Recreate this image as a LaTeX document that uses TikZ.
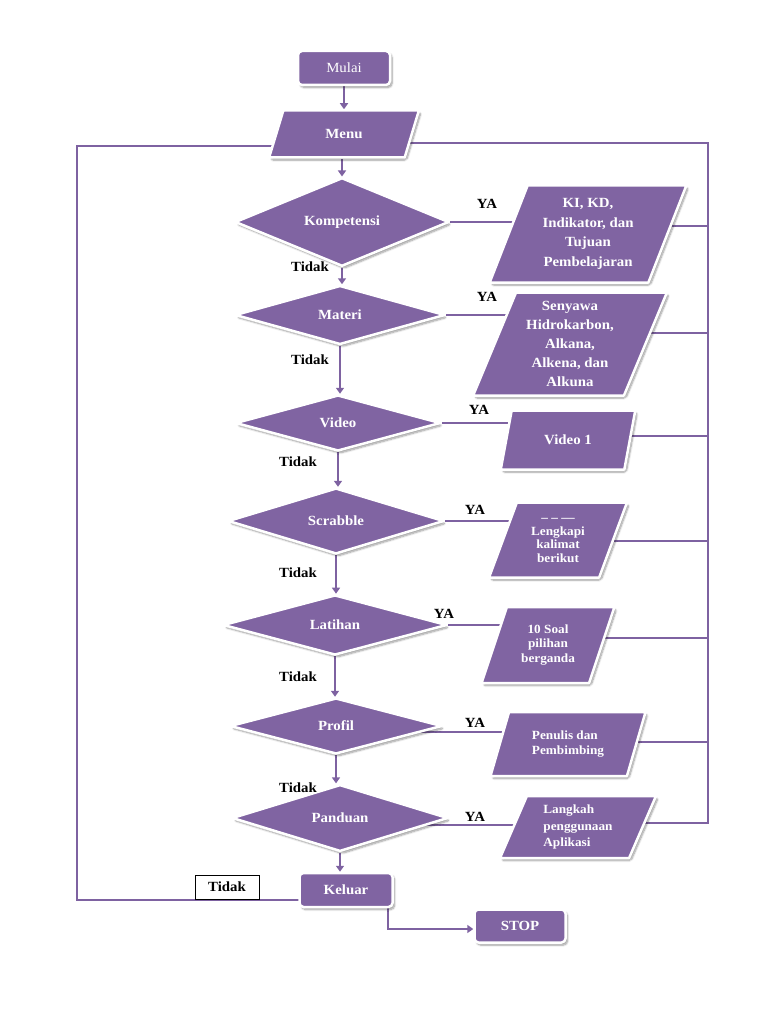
\documentclass[tikz,border=0pt]{standalone}
\usepackage{fontspec}
\setmainfont{Liberation Serif}[FakeStretch=1.06]
\usetikzlibrary{shapes.geometric,arrows.meta,shadows.blur,backgrounds,calc}
\definecolor{purp}{HTML}{8064A2}
\definecolor{lpurp}{HTML}{7E62A1}
\begin{document}
\begin{tikzpicture}[x=1pt,y=-1pt,
  box/.style={draw=white, line width=2.5pt, fill=purp, text=white, line join=round,
     blur shadow={shadow xshift=2pt, shadow yshift=-2.5pt, shadow blur steps=8, shadow blur extra rounding=2pt, shadow opacity=40}},
  rbox/.style={box, rectangle, rounded corners=4pt, minimum width=#1, minimum height=34pt, inner sep=1pt, font=\fontsize{14}{16}\selectfont\bfseries},
  rbox/.default=92pt,
  dia/.style={box, diamond, inner sep=0pt, font=\fontsize{14}{16}\selectfont\bfseries},
  para/.style={box, trapezium, trapezium left angle=68, trapezium right angle=112, trapezium stretches=true, inner sep=1pt, align=center},
  bigtxt/.style={font=\fontsize{14}{19.4}\selectfont\bfseries},
  smalltxt/.style={font=\fontsize{12.5}{13.5}\selectfont\bfseries},
  midtxt/.style={font=\fontsize{12.5}{15.5}\selectfont\bfseries},
  conn/.style={draw=lpurp, line width=2.6pt},
  arr/.style={conn, -{Triangle[width=8pt,length=6pt]}},
  lab/.style={font=\fontsize{14}{16}\selectfont\bfseries, text=black, inner sep=1pt},
]
\useasboundingbox (0,0) rectangle (768,1024);

% start / menu
\node[rbox=92pt, font=\fontsize{14}{16}\selectfont] (mulai) at (344,68) {Mulai};
\node[para, bigtxt, minimum width=150pt, minimum height=47pt] (menu) at (344,134) {Menu};

% decisions
\node[dia, minimum width=214pt, minimum height=60pt] (komp) at (342,222) {Kompetensi};
\node[dia, minimum width=210pt, minimum height=59pt] (mat)  at (340,315) {Materi};
\node[dia, minimum width=205pt, minimum height=56pt] (vid)  at (338,423) {Video};
\node[dia, minimum width=216pt, minimum height=58pt] (scr)  at (336,521) {Scrabble};
\node[dia, minimum width=224pt, minimum height=58pt] (lat)  at (335,625) {Latihan};
\node[dia, minimum width=212pt, minimum height=56pt] (prof) at (336,726) {Profil};
\node[dia, minimum width=216pt, minimum height=56pt] (pand) at (340,818) {Panduan};

% end
\node[rbox=93pt] (kel) at (346,890) {Keluar};
\node[rbox=91pt, minimum height=33pt] (stop) at (520,926) {STOP};
\node[lab, draw=black, line width=0.8pt, fill=white, minimum width=64pt, minimum height=24pt] (tbox) at (227,887) {Tidak};

% outputs
\node[para, bigtxt, minimum width=197pt, minimum height=97pt] (pki) at (588,234)
  {KI, KD,\\Indikator, dan\\Tujuan\\Pembelajaran};
\node[para, font=\fontsize{14}{19.2}\selectfont\bfseries, minimum width=194pt, minimum height=103pt] (psen) at (570,344)
  {Senyawa\\Hidrokarbon,\\Alkana,\\Alkena, dan\\Alkuna};
\node[para, bigtxt, minimum width=135pt, minimum height=59pt] (pvid) at (568,440) {Video 1};
\node[para, smalltxt, minimum width=138pt, minimum height=75pt] (plen) at (558,540)
  {\_\;\_\;\_\_\\[4pt]Lengkapi\\kalimat\\berikut};
\node[para, font=\fontsize{12.5}{14.5}\selectfont\bfseries, minimum width=133pt, minimum height=76pt] (psoal) at (548,645)
  {10 Soal\\pilihan\\berganda};
\node[para, midtxt, align=left, minimum width=156pt, minimum height=64pt] (ppen) at (568,744)
  {Penulis dan\\Pembimbing};
\node[para, font=\fontsize{12.5}{16.5}\selectfont\bfseries, align=left, minimum width=156pt, minimum height=62pt] (plang) at (578,827)
  {Langkah\\penggunaan\\Aplikasi};

% labels
\node[lab] (t1) at (310,267) {Tidak};
\node[lab] (t2) at (310,360) {Tidak};
\node[lab] (t3) at (298,462) {Tidak};
\node[lab] (t4) at (298,573) {Tidak};
\node[lab] (t5) at (298,677) {Tidak};
\node[lab] (t6) at (298,788) {Tidak};
\node[lab] (y1) at (487,204) {YA};
\node[lab] (y2) at (487,297) {YA};
\node[lab] (y3) at (479,410) {YA};
\node[lab] (y4) at (475,510) {YA};
\node[lab] (y5) at (444,614) {YA};
\node[lab] (y6) at (475,723) {YA};
\node[lab] (y7) at (475,817) {YA};

\coordinate (rb) at (708,823);
\coordinate (lt) at (77,146);
\coordinate (ks) at (388,929);

\begin{pgfonlayer}{background}
\draw[arr] (mulai.south) -- (mulai.south |- menu.north);
\draw[arr] (menu.south -| komp.north) -- (komp.north);
\draw[arr] (komp.south) -- (komp.south |- mat.north);
\draw[arr] (mat.south) -- (mat.south |- vid.north);
\draw[arr] (vid.south) -- (vid.south |- scr.north);
\draw[arr] (scr.south) -- (scr.south |- lat.north);
\draw[arr] (lat.south) -- (lat.south |- prof.north);
\draw[arr] (prof.south) -- (prof.south |- pand.north);
\draw[arr] (pand.south) -- (pand.south |- kel.north);

% YA branches
\draw[conn] (komp.east) -- (komp.east -| pki.center);
\draw[conn] (mat.east) -- (mat.east -| psen.center);
\draw[conn] (vid.east) -- (vid.east -| pvid.center);
\draw[conn] (scr.east) -- (scr.east -| plen.center);
\draw[conn] (lat.east) -- (lat.east -| psoal.center);
\draw[conn] ([yshift=-6pt]prof.center) -- ([yshift=-6pt]prof.center -| ppen.center);
\draw[conn] ([yshift=-7pt]pand.center) -- ([yshift=-7pt]pand.center -| plang.center);

% returns to menu (right side)
\draw[conn] ([yshift=-9pt]menu.center) -| (rb) -- (rb -| plang.center);
\draw[conn] ([yshift=8pt]pki.center) -- ([yshift=8pt]pki.center -| rb);
\draw[conn] ([yshift=11pt]psen.center) -- ([yshift=11pt]psen.center -| rb);
\draw[conn] ([yshift=4pt]pvid.center) -- ([yshift=4pt]pvid.center -| rb);
\draw[conn] ([yshift=-1pt]plen.center) -- ([yshift=-1pt]plen.center -| rb);
\draw[conn] ([yshift=7pt]psoal.center) -- ([yshift=7pt]psoal.center -| rb);
\draw[conn] ([yshift=2pt]ppen.center) -- ([yshift=2pt]ppen.center -| rb);

% left loop back to menu
\draw[conn] ([yshift=-10pt]kel.center) -| (lt) -- (lt -| menu.center);

% exit
\draw[arr] ([xshift=31pt,yshift=-13pt]kel.center) -| (ks) -- (ks -| stop.west);
\end{pgfonlayer}
\end{tikzpicture}
\end{document}
